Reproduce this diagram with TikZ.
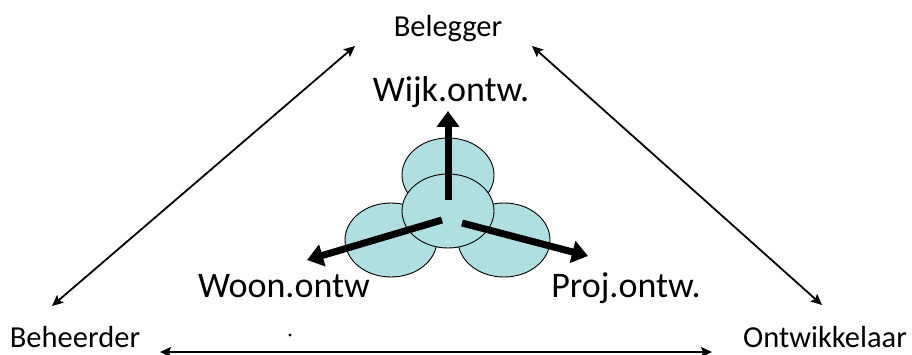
\documentclass[tikz,border=0pt]{standalone}
\usepackage{fontspec}
\setmainfont{Carlito}
\usetikzlibrary{arrows.meta,shapes.geometric}

\definecolor{bubble}{RGB}{175,223,225}

\tikzset{
  role/.style={anchor=base, inner sep=0pt, font=\fontsize{30.5}{33}\selectfont},
  team/.style={anchor=base, inner sep=0pt, font=\fontsize{36}{39}\selectfont},
  bubblenode/.style={ellipse, draw=black, line width=0.9pt, fill=bubble,
                     minimum width=92pt, minimum height=74pt, inner sep=0pt},
  link/.style={line width=1.8pt, {Stealth[length=11pt,width=10pt,inset=2pt]}-{Stealth[length=11pt,width=10pt,inset=2pt]}},
  spoke/.style={line width=7pt, -{Triangle[length=16pt,width=22pt]}}
}

\begin{document}
\begin{tikzpicture}[x=1pt,y=-1pt]
  \useasboundingbox (0,0) rectangle (912,355);

  % the three parties
  \node[role] (belegger) at (448,37) {Belegger};
  \node[role] (beheerder) at (75,347) {Beheerder};
  \node[role] (ontwikkelaar) at (825,347) {Ontwikkelaar};

  % arrow end points around the parties
  \coordinate (bl-top) at (355,46);
  \coordinate (bl-left) at (52,306);
  \coordinate (br-top) at (532,46);
  \coordinate (br-right) at (822,305);
  \coordinate (bt-left) at (160,352);
  \coordinate (bt-right) at (712,352);

  \draw[link] (bl-left) -- (bl-top);
  \draw[link] (br-top) -- (br-right);
  \draw[link] (bt-left) -- (bt-right);

  % small dot above the lower arrow
  \fill (290,335) circle (1.6pt);

  % overlapping bubbles
  \node[bubblenode] (btop) at (448,175) {};
  \node[bubblenode] (bleft) at (391,240) {};
  \node[bubblenode] (bright) at (504,240) {};
  \node[bubblenode] (bmid) at (448,211) {};

  % team labels
  \node[team] (wijk) at (451,102) {Wijk.ontw.};
  \node[team] (woon) at (284,297) {Woon.ontw};
  \node[team] (proj) at (626,297) {Proj.ontw.};

  % spokes out of the centre bubble
  \coordinate (sp-up) at (448,200);
  \coordinate (sp-left) at (442,220);
  \coordinate (sp-right) at (462,223);
  \coordinate (tip-up) at (448,111);
  \coordinate (tip-left) at (307,260);
  \coordinate (tip-right) at (588,256);

  \draw[spoke] (sp-up) -- (tip-up);
  \draw[spoke] (sp-left) -- (tip-left);
  \draw[spoke] (sp-right) -- (tip-right);
\end{tikzpicture}
\end{document}
